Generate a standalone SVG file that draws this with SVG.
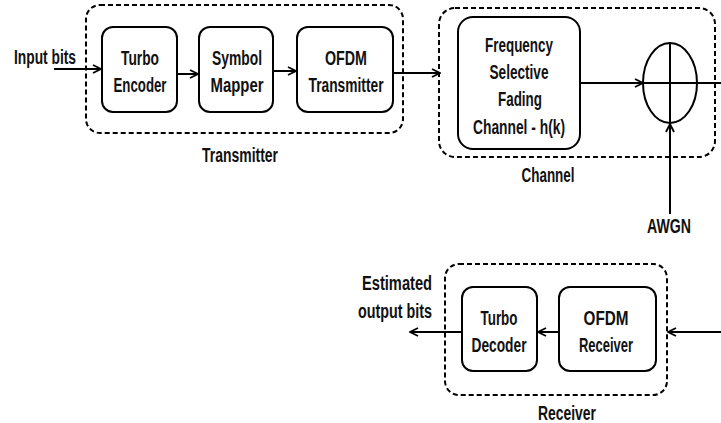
<svg xmlns="http://www.w3.org/2000/svg" width="721" height="423" viewBox="0 0 721 423">
<defs>
<marker id="arr" viewBox="0 0 10 10" refX="9" refY="5" markerWidth="10" markerHeight="10" markerUnits="userSpaceOnUse" orient="auto">
<path d="M1,1 L9,5 L1,9" fill="none" stroke="#000" stroke-width="1.8"/>
</marker>
<style>
.box{fill:#fff;stroke:#000;stroke-width:2}
.grp{fill:none;stroke:#000;stroke-width:2;stroke-dasharray:5 3}
.ln{fill:none;stroke:#000;stroke-width:2}
text{font-family:"Liberation Sans",Arial,sans-serif;font-weight:bold;font-size:20px;fill:#111;text-anchor:middle;dominant-baseline:central}
</style>
</defs>
<rect width="721" height="423" fill="#fff"/>

<g id="transmitter">
<rect class="grp" x="86" y="5" width="317" height="128" rx="14"/>
<text x="240" y="155" textLength="76" lengthAdjust="spacingAndGlyphs">Transmitter</text>
</g>
<g id="channel">
<rect class="grp" x="439" y="8" width="276" height="149" rx="16"/>
<text x="548" y="175" textLength="53" lengthAdjust="spacingAndGlyphs">Channel</text>
</g>
<g id="receiver">
<rect class="grp" x="445" y="264" width="222" height="131" rx="14"/>
<text x="567" y="413" textLength="58" lengthAdjust="spacingAndGlyphs">Receiver</text>
</g>

<g id="input"><text x="45" y="57" textLength="62" lengthAdjust="spacingAndGlyphs">Input bits</text></g>
<g id="turbo-encoder">
<rect class="box" x="102" y="27" width="75" height="85" rx="11"/>
<text x="140" y="58" textLength="38" lengthAdjust="spacingAndGlyphs">Turbo</text><text x="140" y="85" textLength="53" lengthAdjust="spacingAndGlyphs">Encoder</text>
</g>
<g id="symbol-mapper">
<rect class="box" x="199" y="27" width="74" height="85" rx="11"/>
<text x="237" y="58" textLength="50" lengthAdjust="spacingAndGlyphs">Symbol</text><text x="237" y="85" textLength="53" lengthAdjust="spacingAndGlyphs">Mapper</text>
</g>
<g id="ofdm-transmitter">
<rect class="box" x="297" y="27" width="96" height="85" rx="11"/>
<text x="346" y="58" textLength="42" lengthAdjust="spacingAndGlyphs">OFDM</text><text x="346" y="85" textLength="75" lengthAdjust="spacingAndGlyphs">Transmitter</text>
</g>
<g id="fading-channel">
<rect class="box" x="458" y="17" width="122" height="132" rx="15"/>
<text x="519" y="45" textLength="68" lengthAdjust="spacingAndGlyphs">Frequency</text><text x="519" y="72" textLength="59" lengthAdjust="spacingAndGlyphs">Selective</text><text x="520" y="99" textLength="44" lengthAdjust="spacingAndGlyphs">Fading</text><text x="519" y="127" textLength="92" lengthAdjust="spacingAndGlyphs">Channel - h(k)</text>
</g>
<g id="adder">
<ellipse class="ln" cx="670" cy="83" rx="27" ry="40"/>
<line class="ln" x1="670" y1="43" x2="670" y2="123"/>
<line class="ln" x1="643" y1="83" x2="697" y2="83"/>
</g>
<g id="awgn"><text x="669" y="226" textLength="44" lengthAdjust="spacingAndGlyphs">AWGN</text></g>
<g id="turbo-decoder">
<rect class="box" x="462" y="287" width="75" height="84" rx="11"/>
<text x="499" y="318" textLength="37" lengthAdjust="spacingAndGlyphs">Turbo</text><text x="499" y="345" textLength="55" lengthAdjust="spacingAndGlyphs">Decoder</text>
</g>
<g id="ofdm-receiver">
<rect class="box" x="559" y="287" width="97" height="84" rx="11"/>
<text x="606" y="318" textLength="45" lengthAdjust="spacingAndGlyphs">OFDM</text><text x="606" y="345" textLength="54" lengthAdjust="spacingAndGlyphs">Receiver</text>
</g>
<g id="output"><text x="397" y="283" textLength="70" lengthAdjust="spacingAndGlyphs">Estimated</text><text x="395" y="311" textLength="74" lengthAdjust="spacingAndGlyphs">output bits</text></g>

<g id="connectors">
<line class="ln" x1="54" y1="69" x2="101" y2="69" marker-end="url(#arr)"/>
<line class="ln" x1="177" y1="74" x2="198" y2="74" marker-end="url(#arr)"/>
<line class="ln" x1="273" y1="71" x2="296" y2="71" marker-end="url(#arr)"/>
<line class="ln" x1="393" y1="73" x2="440" y2="73" marker-end="url(#arr)"/>
<line class="ln" x1="580" y1="83" x2="643" y2="83" marker-end="url(#arr)"/>
<line class="ln" x1="697" y1="83" x2="721" y2="83"/>
<line class="ln" x1="670" y1="214" x2="670" y2="124" marker-end="url(#arr)"/>
<line class="ln" x1="721" y1="332" x2="668" y2="332" marker-end="url(#arr)"/>
<line class="ln" x1="559" y1="332" x2="538" y2="332" marker-end="url(#arr)"/>
<line class="ln" x1="462" y1="332" x2="410" y2="332" marker-end="url(#arr)"/>
</g>
</svg>
